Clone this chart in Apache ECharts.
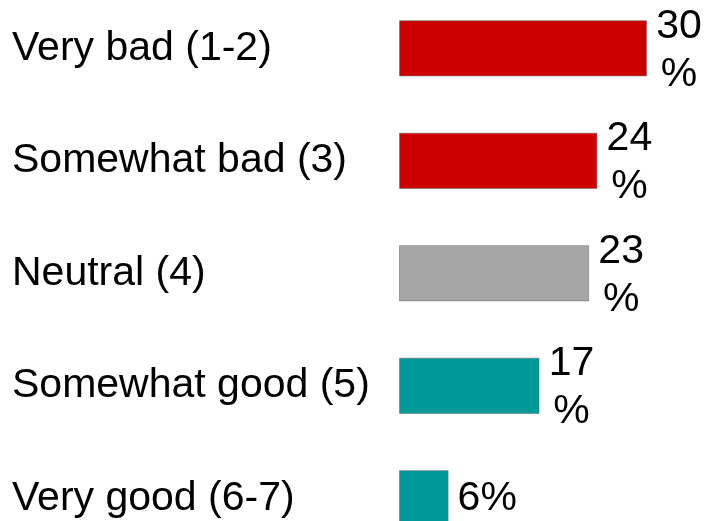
<!DOCTYPE html>
<html>
<head>
<meta charset="utf-8">
<script src="https://cdn.jsdelivr.net/npm/echarts@6/dist/echarts.min.js"></script>
<style>
html,body{margin:0;padding:0;background:#fff;overflow:hidden;width:709px;height:521px;}
#chart{position:absolute;left:0;top:-8px;width:709px;height:570px;}
</style>
</head>
<body>
<div id="chart"></div>
<script>
var categories = ['Very bad (1-2)', 'Somewhat bad (3)', 'Neutral (4)', 'Somewhat good (5)', 'Very good (6-7)'];
var values = [30, 24, 23, 17, 6];
var barColors = ['#CC0000', '#CC0000', '#A6A6A6', '#009999', '#009999'];
var wrapLabel = [true, true, true, true, false];

var chart = echarts.init(document.getElementById('chart'), null, {renderer: 'canvas'});
var FONT = '"Liberation Sans", Arial, sans-serif';

var data = values.map(function (v, i) {
  var lbl = wrapLabel[i]
    ? {formatter: v + '\n%', align: 'center', distance: 32, offset: [0, 2]}
    : {formatter: v + '%', align: 'left', distance: 9};
  return {
    value: v,
    itemStyle: {color: barColors[i]},
    label: lbl
  };
});

chart.setOption({
  animation: false,
  backgroundColor: '#fff',
  grid: {left: 399, width: 248, top: 0, height: 562.5, containLabel: false},
  xAxis: {type: 'value', min: 0, max: 30, show: false},
  yAxis: {
    type: 'category',
    data: categories,
    inverse: true,
    axisLine: {show: false},
    axisTick: {show: false},
    splitLine: {show: false},
    axisLabel: {
      align: 'left',
      margin: 387,
      fontSize: 41,
      color: '#000',
      fontFamily: FONT
    }
  },
  series: [{
    type: 'bar',
    data: data,
    barCategoryGap: '50%',
    itemStyle: {borderColor: 'rgba(110,110,110,0.55)', borderWidth: 1},
    label: {
      show: true,
      position: 'right',
      fontSize: 41,
      lineHeight: 48,
      color: '#000',
      fontFamily: FONT
    }
  }]
});
</script>
</body>
</html>
